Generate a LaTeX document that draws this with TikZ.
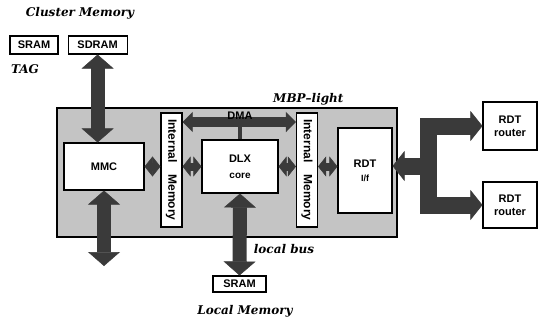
\documentclass[tikz,border=0pt]{standalone}
\usepackage{fontspec}
\setmainfont{Liberation Sans}
\newfontfamily\capfont[Ligatures=TeX]{DejaVu Serif}
\usepackage{tikz}
\usetikzlibrary{arrows.meta,positioning}
\definecolor{chip}{HTML}{C4C4C4}
\definecolor{bus}{HTML}{3A3A3A}

\begin{document}
\begin{tikzpicture}[x=1pt,y=-1pt,
  blk/.style={draw,line width=1.1pt,fill=white,inner sep=0pt,align=center,
    font=\fontsize{11}{13}\selectfont\bfseries},
  caption/.style={font=\capfont\fontsize{12}{14}\selectfont\bfseries\itshape},
  fat/.style={draw=bus,line width=14pt,
    {Triangle[width=32pt,length=14pt,line width=0.5pt]}-{Triangle[width=32pt,length=14pt,line width=0.5pt]}},
  link/.style={draw=bus,line width=8pt,
    {Triangle[width=20pt,length=8pt,line width=0.5pt]}-{Triangle[width=20pt,length=8pt,line width=0.5pt]}},
  dmabus/.style={draw=bus,line width=10pt,
    {Triangle[width=20pt,length=10pt,line width=0.5pt]}-{Triangle[width=20pt,length=10pt,line width=0.5pt]}},
  net/.style={draw=bus,line width=17pt,line join=miter}]
\useasboundingbox (0,0) rectangle (540,324);

% chip outline
\node[draw,line width=1.2pt,fill=chip,minimum width=340pt,minimum height=129pt] (mbp) at (227,172.5) {};
\node[caption,anchor=base east] (mbplbl) at (347,102) {MBP\textendash light};

% cluster memory
\node[blk,minimum width=48pt,minimum height=18pt] (tagram) at (34,45) {SRAM};
\node[blk,minimum width=59pt,minimum height=18pt,right=9pt of tagram] (sdram) {SDRAM};
\node[caption] (clmem) at (80,13) {Cluster Memory};
\node[caption] (tag) at (25,69) {TAG};

% blocks inside
\node[blk,minimum width=80pt,minimum height=47pt] (mmc) at (104,166.5) {MMC};
\node[blk,minimum width=21pt,minimum height=114pt,font=\fontsize{12}{14}\selectfont\bfseries] (lim) at (171.5,170) {\rotatebox{-90}{Internal\quad Memory}};
\node[blk,minimum width=76pt,minimum height=53pt] (dlx) at (240,166.5) {DLX\\[3pt]{\fontsize{10}{12}\selectfont core}};
\node[blk,minimum width=21pt,minimum height=114pt,font=\fontsize{12}{14}\selectfont\bfseries] (rim) at (307,170) {\rotatebox{-90}{Internal\quad Memory}};
\node[blk,minimum width=54pt,minimum height=85pt] (rdt) at (365,170.5) {RDT\\[1pt]{\fontsize{9}{11}\selectfont I/f}};

% routers
\node[blk,minimum width=54pt,minimum height=48pt] (rt1) at (510,126) {RDT\\router};
\node[blk,minimum width=54pt,minimum height=46pt] (rt2) at (510,205) {RDT\\router};

% local memory
\node[blk,minimum width=53pt,minimum height=16pt] (lsram) at (239.5,284) {SRAM};
\node[caption] (lbus) at (284,249) {local bus};
\node[caption] (lmem) at (245,311) {Local Memory};

\coordinate (mmcout) at (102,266);
\coordinate (dma) at (240,122);
\coordinate (fork) at (428,166);

% buses
\draw[fat] (sdram.south) -- (sdram.south |- mmc.north);
\draw[fat] (mmc.south) -- (mmc.south |- mmcout);
\draw[fat] (dlx.south) -- (lsram.north);
\draw[link] (mmc.east) -- (mmc.east -| lim.west);
\draw[link] (lim.east |- dlx.west) -- (dlx.west);
\draw[link] (dlx.east) -- (dlx.east -| rim.west);
\draw[link] (rim.east |- dlx.east) -- (rdt.west |- dlx.east);
\draw[draw=bus,line width=4pt] (dlx.north) -- (dma);
\draw[dmabus] (lim.east |- dma) -- (rim.west |- dma);
\node[font=\fontsize{11}{13}\selectfont\bfseries] (dmalbl) at (240,116) {DMA};

% network
\draw[net,{Triangle[width=30pt,length=12pt,line width=0.5pt]}-] (rdt.east |- fork) -- (fork);
\draw[net,{Triangle[width=30pt,length=12pt,line width=0.5pt]}-{Triangle[width=30pt,length=12pt,line width=0.5pt]}]
  (rt1.west) -- (fork |- rt1.west) -- (fork |- rt2.west) -- (rt2.west);
\end{tikzpicture}
\end{document}
